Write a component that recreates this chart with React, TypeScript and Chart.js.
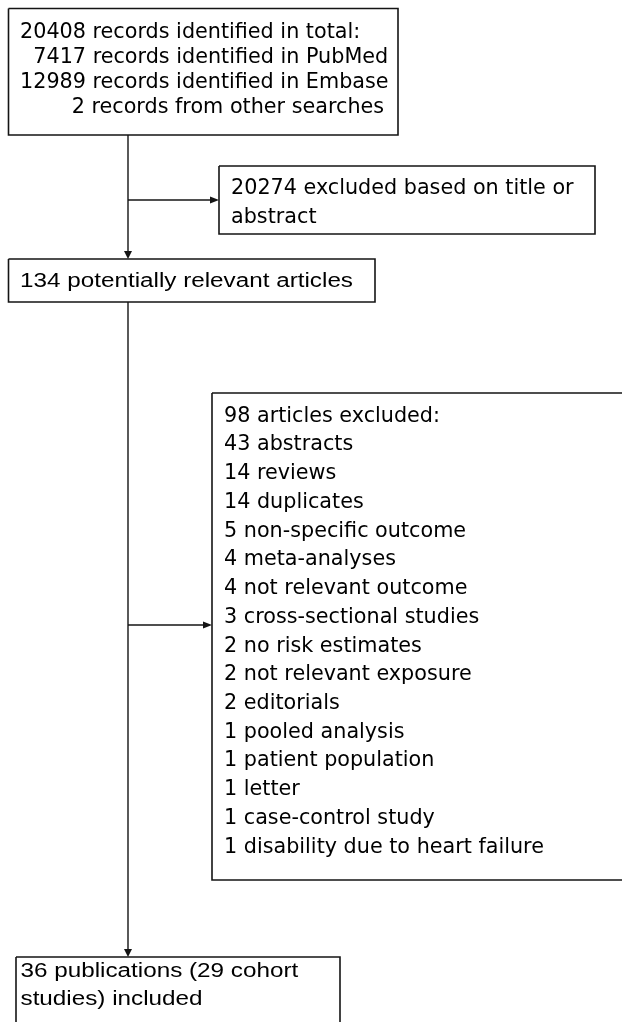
import React, { useEffect, useRef } from "react";
import { Chart, registerables } from "chart.js";

Chart.register(...registerables);

// ---- Content (text of each flow box) ----
const searchLines = [
  "20408 records identified in total:",
  "7417 records identified in PubMed",
  "12989 records identified in Embase",
  "2 records from other searches",
];
const titleExcludedLines = ["20274 excluded based on title or", "abstract"];
const relevantLines = ["134 potentially relevant articles"];
const fullTextExcludedLines = [
  "98 articles excluded:",
  "43 abstracts",
  "14 reviews",
  "14 duplicates",
  "5 non-specific outcome",
  "4 meta-analyses",
  "4 not relevant outcome",
  "3 cross-sectional studies",
  "2 no risk estimates",
  "2 not relevant exposure",
  "2 editorials",
  "1 pooled analysis",
  "1 patient population",
  "1 letter",
  "1 case-control study",
  "1 disability due to heart failure",
];
const includedLines = ["36 publications (29 cohort", "studies) included"];

// ---- Layout (in scale units; the scales span the whole page) ----
const W = 622;
const H = 1022;
const TAHOMA_LIKE = "DejaVu Sans";
const ARIAL_LIKE = "'Liberation Sans', Arial, sans-serif";

type Box = { x0: number; y0: number; x1: number; y1: number };
const boxSearch: Box = { x0: 8.5, y0: 8.5, x1: 398, y1: 135 };
const boxTitle: Box = { x0: 219, y0: 166, x1: 595, y1: 234 };
const boxRelevant: Box = { x0: 8.5, y0: 259, x1: 375, y1: 302 };
const boxFull: Box = { x0: 212, y0: 393, x1: 640, y1: 880 };
const boxIncluded: Box = { x0: 16, y0: 957, x1: 340, y1: 1040 };

const spineX = 128;
const connectors = [
  { from: [spineX, 135], to: [spineX, 259], arrow: "down" },
  { from: [spineX, 200], to: [219, 200], arrow: "right" },
  { from: [spineX, 302], to: [spineX, 957], arrow: "down" },
  { from: [spineX, 625], to: [212, 625], arrow: "right" },
];

type TextBlock = {
  lines: string[];
  xs: number[];
  baseline0: number;
  step: number;
  family: string;
  size: number;
  kind: "tahoma" | "arial";
};
const textBlocks: TextBlock[] = [
  { lines: searchLines, xs: [20, 33.3, 20, 71.7], baseline0: 37.7, step: 25.1, family: TAHOMA_LIKE, size: 20.5, kind: "tahoma" },
  { lines: titleExcludedLines, xs: [231, 231], baseline0: 194, step: 29, family: TAHOMA_LIKE, size: 20.5, kind: "tahoma" },
  { lines: relevantLines, xs: [20], baseline0: 286.5, step: 0, family: ARIAL_LIKE, size: 20, kind: "arial" },
  { lines: fullTextExcludedLines, xs: fullTextExcludedLines.map(() => 224), baseline0: 421.7, step: 28.73, family: TAHOMA_LIKE, size: 20.5, kind: "tahoma" },
  { lines: includedLines, xs: [20.5, 20.5], baseline0: 977, step: 27.5, family: ARIAL_LIKE, size: 20, kind: "arial" },
];
// reference lines used to fit the horizontal stretch of the text
const WIDTH_REF = {
  tahoma: { text: "98 articles excluded:", width: 216, size: 20.5, family: TAHOMA_LIKE },
  arial: { text: "134 potentially relevant articles", width: 333, size: 20, family: ARIAL_LIKE },
};

const STROKE = "#141414";

function rectPoints(b: Box) {
  return [
    { x: b.x0, y: b.y0 },
    { x: b.x1, y: b.y0 },
    { x: b.x1, y: b.y1 },
    { x: b.x0, y: b.y1 },
    { x: b.x0, y: b.y0 },
  ];
}

const flowPlugin = {
  id: "flowPlugin",
  afterDatasetsDraw(chart: any) {
    const ctx: CanvasRenderingContext2D = chart.ctx;
    const xs = chart.scales.x;
    const ys = chart.scales.y;
    const px = (v: number) => xs.getPixelForValue(v);
    const py = (v: number) => ys.getPixelForValue(v);

    // arrowheads
    ctx.save();
    ctx.fillStyle = STROKE;
    connectors.forEach((c) => {
      const tx = px(c.to[0]);
      const ty = py(c.to[1]);
      ctx.beginPath();
      if (c.arrow === "down") {
        ctx.moveTo(tx, ty);
        ctx.lineTo(tx - 4, ty - 8);
        ctx.lineTo(tx + 4, ty - 8);
      } else {
        ctx.moveTo(tx, ty);
        ctx.lineTo(tx - 9, ty - 3.5);
        ctx.lineTo(tx - 9, ty + 3.5);
      }
      ctx.closePath();
      ctx.fill();
    });
    ctx.restore();

    // horizontal stretch factors
    const stretch: Record<string, number> = {};
    (Object.keys(WIDTH_REF) as ("tahoma" | "arial")[]).forEach((k) => {
      const r = WIDTH_REF[k];
      ctx.save();
      ctx.font = `${r.size}px ${r.family}`;
      stretch[k] = r.width / ctx.measureText(r.text).width;
      ctx.restore();
    });

    ctx.save();
    ctx.fillStyle = "#000";
    ctx.textBaseline = "alphabetic";
    ctx.textAlign = "left";
    textBlocks.forEach((tb) => {
      ctx.font = `${tb.size}px ${tb.family}`;
      tb.lines.forEach((line, i) => {
        const x = px(tb.xs[i]);
        const y = py(tb.baseline0 + i * tb.step);
        ctx.save();
        ctx.translate(x, y);
        ctx.scale(stretch[tb.kind], 1);
        ctx.fillText(line, 0, 0);
        ctx.restore();
      });
    });
    ctx.restore();
  },
};

export default function App() {
  const ref = useRef<HTMLCanvasElement | null>(null);
  useEffect(() => {
    if (!ref.current) return;
    const boxes = [boxSearch, boxTitle, boxRelevant, boxFull, boxIncluded];
    const datasets: any[] = [];
    boxes.forEach((b) => {
      datasets.push({
        data: rectPoints(b),
        showLine: true,
        borderColor: STROKE,
        borderWidth: 1.6,
        pointRadius: 0,
        fill: false,
        tension: 0,
      });
    });
    connectors.forEach((c) => {
      const end =
        c.arrow === "down"
          ? { x: c.to[0], y: c.to[1] - 6 }
          : { x: c.to[0] - 6, y: c.to[1] };
      datasets.push({
        data: [{ x: c.from[0], y: c.from[1] }, end],
        showLine: true,
        borderColor: STROKE,
        borderWidth: 1.4,
        pointRadius: 0,
        fill: false,
      });
    });
    const chart = new Chart(ref.current, {
      type: "scatter",
      data: { datasets },
      options: {
        animation: false,
        responsive: false,
        devicePixelRatio: 1,
        layout: { padding: 0 },
        plugins: { legend: { display: false }, tooltip: { enabled: false } },
        events: [],
        scales: {
          x: { type: "linear", min: 0, max: W, display: false },
          y: { type: "linear", min: 0, max: H, reverse: true, display: false },
        },
      },
      plugins: [flowPlugin],
    });
    return () => chart.destroy();
  }, []);
  return (
    <div style={{ position: "absolute", left: 0, top: 0, width: W, height: H, background: "#fff" }}>
      <canvas ref={ref} width={W} height={H} style={{ display: "block" }} />
    </div>
  );
}
